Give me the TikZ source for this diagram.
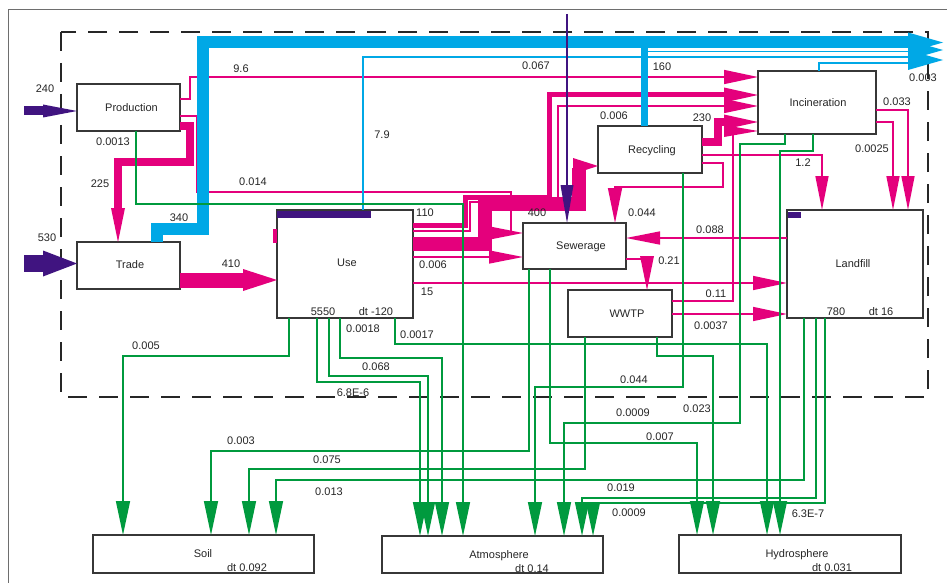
\documentclass[tikz,border=0pt]{standalone}
\usepackage{fontspec}
\setmainfont{Liberation Sans}
\usetikzlibrary{arrows.meta}
\definecolor{mag}{RGB}{228,0,124}
\definecolor{grn}{RGB}{0,154,62}
\definecolor{cyn}{RGB}{0,168,230}
\definecolor{pur}{RGB}{64,20,128}
\definecolor{boxc}{RGB}{55,55,55}
\definecolor{framec}{RGB}{110,110,110}
\newcommand\headR[5][mag]{\fill[#1] (#2,#3) -- ++(-#4,-#5) -- ++(0,2*#5) -- cycle;}
\newcommand\headD[5][mag]{\fill[#1] (#2,#3) -- ++(-#5,-#4) -- ++(2*#5,0) -- cycle;}
\begin{document}
\begin{tikzpicture}[x=1pt,y=-1pt,
  font=\fontsize{11}{13}\selectfont,
  box/.style={draw=boxc,line width=1.2pt,fill=white,inner sep=0pt,outer sep=0pt},
  lab/.style={inner sep=0pt,text height=7.9pt,text depth=0pt,text=black!85},
  mg/.style={draw=mag,line width=1.5pt},
  gr/.style={draw=grn,line width=1.5pt},
  cy/.style={draw=cyn,line width=1.2pt},
  th/.style={-{Triangle[length=34pt,width=14pt]}},
  tg/.style={-{Triangle[length=34pt,width=13pt]}}]

\useasboundingbox (0,0) rectangle (947,583);
\fill[white] (0,0) rectangle (947,583);
\draw[framec,line width=1pt] (8,583) -- (8,10) -- (947,10);
\draw[black!85,line width=1.2pt,dash pattern=on 19pt off 12pt] (61,32) rectangle (928,397);

% boxes
\node[box,minimum width=103pt,minimum height=47pt] (Prod) at (128.5,107.5) {};
\node[box,minimum width=103pt,minimum height=47pt] (Trade) at (128.5,265.5) {};
\node[box,minimum width=136pt,minimum height=108pt] (Use) at (345,264) {};
\node[box,minimum width=103pt,minimum height=46pt] (Sew) at (574.5,246) {};
\node[box,minimum width=104pt,minimum height=47pt] (WWTP) at (620,313.5) {};
\node[box,minimum width=104pt,minimum height=47pt] (Rec) at (650,149.5) {};
\node[box,minimum width=118pt,minimum height=63pt] (Inc) at (817,102.5) {};
\node[box,minimum width=136pt,minimum height=108pt] (Land) at (855,264) {};
\node[box,minimum width=221pt,minimum height=38pt] (Soil) at (203.5,554) {};
\node[box,minimum width=221pt,minimum height=37pt] (Atm) at (492.5,554.5) {};
\node[box,minimum width=222pt,minimum height=38pt] (Hyd) at (790,554) {};

% ---------- magenta flows ----------
\draw[mg,th] (Prod.east |- 0,99) -- (190,99) -- (190,77) -- (Inc.west |- 0,77);
\draw[mg] (Prod.east |- 0,116) -- (197,116) -- (197,192) -- (511,192) -- (511,233) -- (495,233);
\headR{523}{233}{33}{6.5}
\draw[mag,line width=8.5pt] (Prod.east |- 0,126) -- (190,126) -- (190,162) -- (118,162) -- (118,209);
\headD{118}{242}{34}{7}
\draw[mag,line width=15pt] (Trade.east |- 0,280) -- (244,280);
\headR{277}{280}{34}{11}
\draw[mag,line width=5pt] (Use.east |- 0,225.5) -- (465.5,225.5) -- (465.5,197.5) -- (549.5,197.5) -- (549.5,95) -- (725,95);
\headR{758}{95}{34}{7.5}
\draw[mg,th] (Use.east |- 0,231) -- (470,231) -- (470,202) -- (558,202) -- (558,106) -- (Inc.west |- 0,106);
\draw[mag,line width=14pt] (Use.east |- 0,243.5) -- (484.5,243.5) -- (484.5,204) -- (578.5,204) -- (578.5,168);
\headR{598}{166}{25}{8}
\draw[mg,tg] (Use.east |- 0,257) -- (Sew.west |- 0,257);
\draw[mg,th] (Use.east |- 0,283) -- (Land.west |- 0,283);
\draw[mag,line width=8pt] (Rec.east |- 0,142) -- (718,142) -- (718,122) -- (725,122);
\headR{758}{122}{34}{7.5}
\draw[mg] (WWTP.east |- 0,301) -- (733,301) -- (733,131) -- (727,131);
\headR{758}{131}{34}{6}
\draw[mg,tg] (Rec.east |- 0,155) -- (822,155) -- (Land.north -| 822,0);
\draw[mg,-{Triangle[length=35pt,width=14pt]}] (Rec.east |- 0,163) -- (723,163) -- (723,187) -- (615,187) -- (Sew.north -| 615,0);
\draw[mg,tg] (Inc.east |- 0,110) -- (908,110) -- (Land.north -| 908,0);
\draw[mg,tg] (Inc.east |- 0,122) -- (893,122) -- (Land.north -| 893,0);
\draw[mg,tg] (Land.west |- 0,238) -- (Sew.east |- 0,238);
\draw[mg] (Sew.east |- 0,259) -- (647,259);
\headD{647}{290}{34}{7}
\draw[mg,th] (WWTP.east |- 0,314) -- (Land.west |- 0,314);

% ---------- cyan flows ----------
\draw[cyn,line width=12pt] (Trade.north -| 157,0) -- (157,229) -- (203,229) -- (203,42.5) -- (910,42.5);
\draw[cyn,line width=7pt] (Rec.north -| 644,0) -- (644,46);
\draw[cyn,line width=1.6pt] (644,51.5) -- (910,51.5);
\draw[cy] (Use.north -| 363,0) -- (363,57) -- (910,57);
\draw[cy] (Inc.north -| 819,0) -- (819,63) -- (910,63);
\headR[cyn]{943}{42.5}{35}{10}
\headR[cyn]{943}{50}{35}{10}
\headR[cyn]{943}{60}{35}{10}

% ---------- green flows ----------
\draw[gr,th] (Prod.south -| 136,0) -- (136,204) -- (463,204) -- (Atm.north -| 463,0);
\draw[gr,th] (Use.south -| 289,0) -- (289,356) -- (123,356) -- (Soil.north -| 123,0);
\draw[gr,th] (Use.south -| 317,0) -- (317,382) -- (420,382) -- (Atm.north -| 420,0);
\draw[gr,th] (Use.south -| 329,0) -- (329,376) -- (428,376) -- (Atm.north -| 428,0);
\draw[gr,th] (Use.south -| 340,0) -- (340,358) -- (442,358) -- (Atm.north -| 442,0);
\draw[gr,th] (Use.south -| 395,0) -- (395,344) -- (767,344) -- (Hyd.north -| 767,0);
\draw[gr,th] (Sew.south -| 529,0) -- (529,451) -- (211,451) -- (Soil.north -| 211,0);
\draw[gr,th] (Sew.south -| 550,0) -- (550,443) -- (697,443) -- (Hyd.north -| 697,0);
\draw[gr,th] (WWTP.south -| 585,0) -- (585,469) -- (249,469) -- (Soil.north -| 249,0);
\draw[gr,th] (WWTP.south -| 657,0) -- (657,356) -- (713,356) -- (Hyd.north -| 713,0);
\draw[gr,th] (Rec.south -| 683,0) -- (683,387) -- (535,387) -- (Atm.north -| 535,0);
\draw[gr,th] (Inc.south -| 785,0) -- (785,144) -- (740,144) -- (740,423) -- (564,423) -- (Atm.north -| 564,0);
\draw[gr,th] (Inc.south -| 813,0) -- (813,151) -- (780,151) -- (Hyd.north -| 780,0);
\draw[gr,th] (Land.south -| 804,0) -- (804,480) -- (276,480) -- (Soil.north -| 276,0);
\draw[gr,th] (Land.south -| 816,0) -- (816,498) -- (582,498) -- (Atm.north -| 582,0);
\draw[gr,th] (Land.south -| 825,0) -- (825,503) -- (593,503) -- (Atm.north -| 593,0);

% ---------- purple (imports, stocks) ----------
\draw[pur,line width=9pt] (24,111) -- (46,111);
\headR[pur]{77}{111}{34}{6.5}
\draw[pur,line width=17pt] (24,263.5) -- (46,263.5);
\headR[pur]{77}{263.5}{34}{13}
\draw[pur,line width=1.5pt] (567,14) -- (567,187);
\headD[pur]{567}{223}{38}{6.5}
\fill[pur] (277,211) rectangle (371,218);
\fill[pur] (788,212) rectangle (801,218);
\fill[mag] (273,229) rectangle (277,243);

% ---------- box texts ----------
\node[lab] (tProd) at (131.5,108) {Production};
\node[lab] (tTrade) at (130,265) {Trade};
\node[lab] (tUse) at (347,263) {Use};
\node[lab] (tSew) at (581,246) {Sewerage};
\node[lab] (tWWTP) at (627,314) {WWTP};
\node[lab] (tRec) at (652,150) {Recycling};
\node[lab] (tInc) at (818,103) {Incineration};
\node[lab] (tLand) at (853,264) {Landfill};
\node[lab] (tSoil) at (203,554) {Soil};
\node[lab] (dSoil) at (247,568) {dt 0.092};
\node[lab] (tAtm) at (499,555) {Atmosphere};
\node[lab] (dAtm) at (532,569) {dt 0.14};
\node[lab] (tHyd) at (797,554) {Hydrosphere};
\node[lab] (dHyd) at (832,568) {dt 0.031};
\node[lab] (sUse) at (323,312) {5550};
\node[lab] (dUse) at (376,312) {dt -120};
\node[lab] (sLand) at (836,312) {780};
\node[lab] (dLand) at (881,312) {dt 16};

% ---------- flow values ----------
\node[lab] (v1) at (45,89) {240};
\node[lab] (v2) at (47,238) {530};
\node[lab] (v3) at (113,142) {0.0013};
\node[lab] (v4) at (100,184) {225};
\node[lab] (v5) at (179,218) {340};
\node[lab] (v6) at (231,264) {410};
\node[lab] (v7) at (241,69) {9.6};
\node[lab] (v8) at (253,182) {0.014};
\node[lab] (v9) at (382,135) {7.9};
\node[lab] (v10) at (536,66) {0.067};
\node[lab] (v11) at (662,67) {160};
\node[lab] (v12) at (923,78) {0.003};
\node[lab] (v13) at (614,116) {0.006};
\node[lab] (v14) at (702,118) {230};
\node[lab] (v15) at (897,102) {0.033};
\node[lab] (v16) at (872,149) {0.0025};
\node[lab] (v17) at (803,163) {1.2};
\node[lab] (v18) at (425,213) {110};
\node[lab] (v19) at (537,213) {400};
\node[lab] (v20) at (642,213) {0.044};
\node[lab] (v21) at (710,230) {0.088};
\node[lab] (v22) at (669,261) {0.21};
\node[lab] (v23) at (433,265) {0.006};
\node[lab] (v24) at (427,292) {15};
\node[lab] (v25) at (716,294) {0.11};
\node[lab] (v26) at (711,326) {0.0037};
\node[lab] (v27) at (363,329) {0.0018};
\node[lab] (v28) at (417,335) {0.0017};
\node[lab] (v29) at (146,346) {0.005};
\node[lab] (v30) at (376,367) {0.068};
\node[lab] (v31) at (353,393) {6.8E-6};
\node[lab] (v32) at (634,380) {0.044};
\node[lab] (v33) at (633,413) {0.0009};
\node[lab] (v34) at (697,409) {0.023};
\node[lab] (v35) at (241,441) {0.003};
\node[lab] (v36) at (660,437) {0.007};
\node[lab] (v37) at (327,460) {0.075};
\node[lab] (v38) at (329,492) {0.013};
\node[lab] (v39) at (621,488) {0.019};
\node[lab] (v40) at (629,513) {0.0009};
\node[lab] (v41) at (808,514) {6.3E-7};
\end{tikzpicture}
\end{document}
